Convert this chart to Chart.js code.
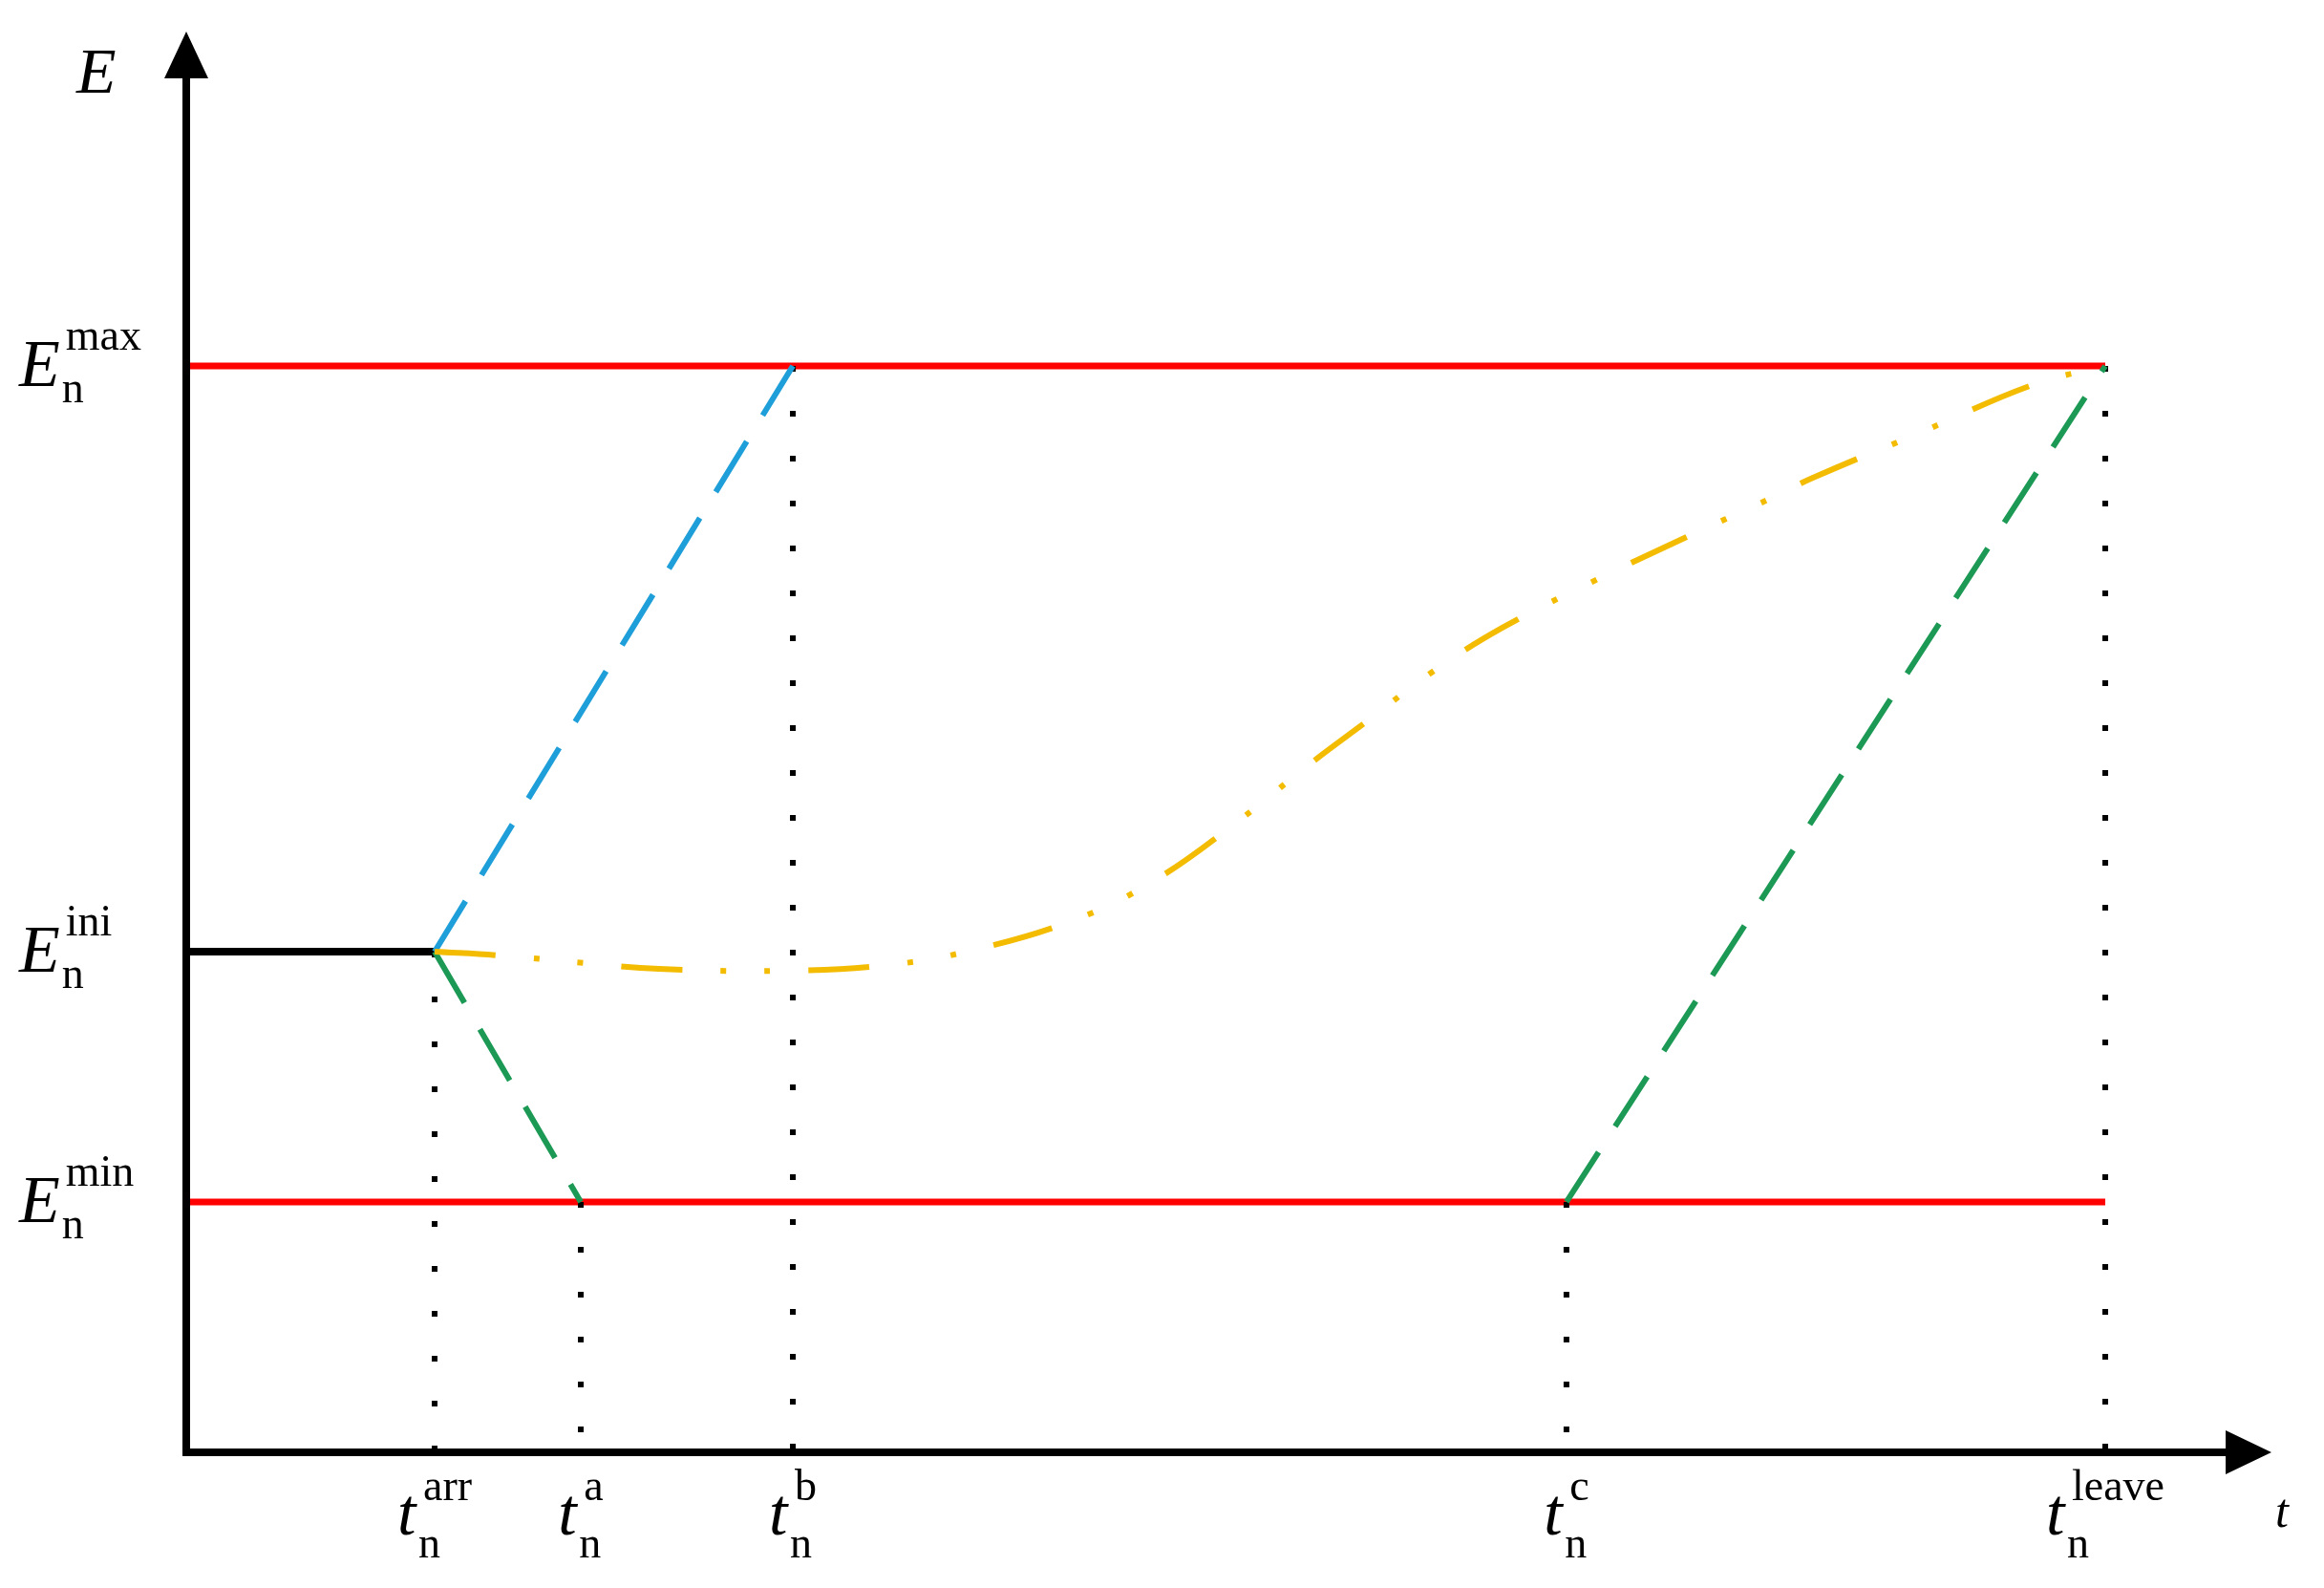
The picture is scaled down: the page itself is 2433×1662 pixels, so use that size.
<!DOCTYPE html>
<html>
<head>
<meta charset="utf-8">
<script src="https://cdn.jsdelivr.net/npm/chart.js@4.4.1/dist/chart.umd.min.js"></script>
<style>
  html, body { margin: 0; padding: 0; background: #fff; }
  canvas { display: block; }
</style>
</head>
<body>
<canvas id="energy" width="2433" height="1662"></canvas>
<script>
// energy levels (y) and time marks (x), in arbitrary units 0..100
const levelNames = ['max', 'ini', 'min'];
const levelValues = [76.46, 35.24, 17.62];
const tickNames = ['arr', 'a', 'b', 'c', 'leave'];
const tickTimes = [11.91, 18.92, 29.09, 66.19, 92.03];
const dropFrom = ['ini', 'min', 'max', 'min', 'max'];

// the slow charging curve (dash-dot-dot)
const curveT = [11.91, 15.03, 19.15, 22.68, 28.49, 33.67, 37.79, 42.69, 46.40, 50.53, 53.92,
  56.80, 59.64, 63.12, 67.70, 71.46, 76.13, 78.01, 83.14, 88.64, 92.03];
const curveE = [35.24, 34.97, 34.43, 34.03, 33.89, 34.30, 35.37, 37.53, 40.22, 44.52, 48.49,
  51.65, 54.81, 58.04, 61.47, 64.09, 67.25, 68.59, 71.76, 75.18, 76.46];

const SERIF = '"Liberation Serif", "DejaVu Serif", serif';

function level(name){ return levelValues[levelNames.indexOf(name)]; }
function tick(name){ return tickTimes[tickNames.indexOf(name)]; }
function pt(t, e){ return {x: t, y: e}; }

function seg(points, color, width, dash){
  return {
    data: points,
    showLine: true,
    borderColor: color,
    borderWidth: width,
    borderDash: dash || [],
    pointRadius: 0,
    fill: false
  };
}

var datasets = [];

var curve = seg(curveT.map((t, i) => pt(t, curveE[i])), '#f3bc00', 6, [64, 40, 6, 40, 6, 40]);
curve.tension = 0.4;
datasets.push(curve);

datasets.push(seg([pt(tick('arr'), level('ini')), pt(tick('b'), level('max'))], '#1f9fd9', 6, [62, 32]));
datasets.push(seg([pt(tick('arr'), level('ini')), pt(tick('a'), level('min'))], '#1c9a55', 6, [62, 32]));
datasets.push(seg([pt(tick('c'), level('min')), pt(tick('leave'), level('max'))], '#1c9a55', 6, [62, 32]));

for (var i = 0; i < tickNames.length; i++){
  datasets.push(seg([pt(tickTimes[i], level(dropFrom[i])), pt(tickTimes[i], 0)], '#000', 6, [6, 41]));
}

datasets.push(seg([pt(0, level('max')), pt(tick('leave'), level('max'))], '#ff0000', 7));
datasets.push(seg([pt(0, level('min')), pt(tick('leave'), level('min'))], '#ff0000', 7));
datasets.push(seg([pt(0, level('ini')), pt(tick('arr'), level('ini'))], '#000', 8));

function italic(size){ return 'italic ' + size + 'px ' + SERIF; }
function upright(size){ return size + 'px ' + SERIF; }

const axesPlugin = {
  id: 'axes',
  afterDraw(chart){
    const ctx = chart.ctx;
    const xs = chart.scales.x, ys = chart.scales.y;
    const x0 = xs.getPixelForValue(0), y0 = ys.getPixelForValue(0);
    const xEnd = xs.getPixelForValue(xs.max), yEnd = ys.getPixelForValue(ys.max);

    ctx.save();
    ctx.strokeStyle = '#000';
    ctx.fillStyle = '#000';
    ctx.lineWidth = 8;
    ctx.lineJoin = 'miter';
    ctx.beginPath();
    ctx.moveTo(x0, yEnd + 48);
    ctx.lineTo(x0, y0);
    ctx.lineTo(xEnd - 48, y0);
    ctx.stroke();

    ctx.beginPath();
    ctx.moveTo(x0, yEnd);
    ctx.lineTo(x0 - 23, yEnd + 49);
    ctx.lineTo(x0 + 23, yEnd + 49);
    ctx.closePath();
    ctx.moveTo(xEnd, y0);
    ctx.lineTo(xEnd - 48, y0 - 23);
    ctx.lineTo(xEnd - 48, y0 + 23);
    ctx.closePath();
    ctx.fill();

    ctx.textBaseline = 'alphabetic';
    ctx.textAlign = 'left';

    // axis names
    ctx.font = italic(68);
    ctx.fillText('E', x0 - 115, yEnd + 64);
    ctx.font = italic(50);
    ctx.fillText('t', xEnd + 4, y0 + 78);

    // energy level labels
    levelNames.forEach(function(name, i){
      var y = ys.getPixelForValue(levelValues[i]) + 21;
      var left = 20;
      ctx.font = italic(70);
      var w = ctx.measureText('E').width;
      ctx.fillText('E', left, y);
      ctx.font = upright(46);
      ctx.fillText(name, left + w + 6, y - 38);
      ctx.font = upright(46);
      ctx.fillText('n', left + w + 2, y + 17);
    });

    // time labels
    tickNames.forEach(function(name, i){
      var cx = xs.getPixelForValue(tickTimes[i]);
      ctx.font = upright(46);
      var wSup = ctx.measureText(name).width;
      var wSub = ctx.measureText('n').width;
      var group = Math.max(27 + wSup, 22 + wSub);
      var left = cx - group / 2;
      ctx.font = italic(70);
      ctx.fillText('t', left, y0 + 86);
      ctx.font = upright(46);
      ctx.fillText(name, left + 27, y0 + 50);
      ctx.fillText('n', left + 22, y0 + 110);
    });
    ctx.restore();
  }
};

const chartInstance = new Chart(document.getElementById('energy'), {
  type: 'scatter',
  data: { datasets: datasets },
  options: {
    responsive: false,
    devicePixelRatio: 1,
    animation: false,
    layout: { padding: { left: 195, top: 33, right: 55, bottom: 142 } },
    scales: {
      x: { type: 'linear', min: 0, max: 100, display: false },
      y: { type: 'linear', min: 0, max: 100, display: false }
    },
    plugins: {
      legend: { display: false },
      tooltip: { enabled: false }
    }
  },
  plugins: [axesPlugin]
});
</script>
</body>
</html>
